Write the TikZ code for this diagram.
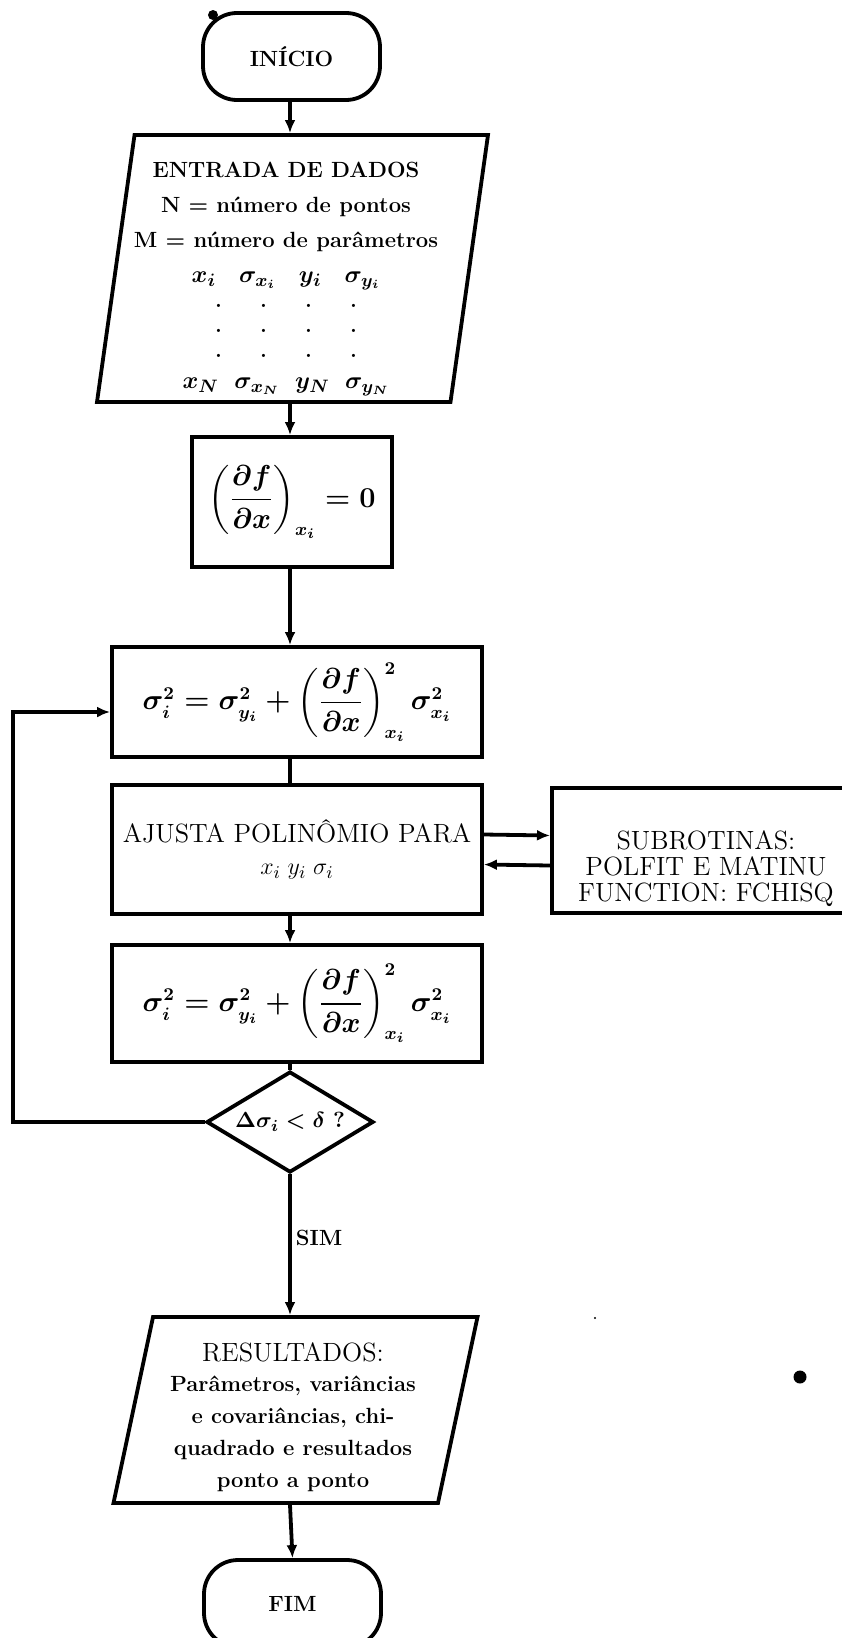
\documentclass[tikz,border=0pt]{standalone}
\usepackage{fontspec}
\usepackage{amsmath}
\usetikzlibrary{shapes.geometric,arrows.meta,calc}

\newcommand{\pontos}{\makebox[22.5pt]{.}\makebox[22.5pt]{.}\makebox[22.5pt]{.}\makebox[22.5pt]{.}}

\tikzset{
  caixa/.style={draw, line width=1.9pt, rectangle, inner sep=0pt, align=center},
  terminal/.style={draw, line width=1.9pt, rectangle, rounded corners=17pt, minimum width=88.5pt, minimum height=43.5pt, inner sep=0pt, font=\fontsize{11}{13}\selectfont\bfseries},
  paralelo/.style={draw, line width=1.9pt, trapezium, trapezium stretches body, inner sep=0pt},
  decisao/.style={draw, line width=1.9pt, diamond, inner sep=0pt, minimum width=83.5pt, minimum height=50.5pt},
  seta/.style={line width=1.9pt, -{Latex[length=6.5pt,width=5.5pt]}},
  linha/.style={line width=1.9pt},
  texto/.style={font=\fontsize{11}{17.5}\selectfont\bfseries\boldmath, align=center, inner sep=0pt},
  formula/.style={font=\fontsize{13.5}{15}\selectfont\bfseries\boldmath},
  normal/.style={font=\fontsize{13.2}{15}\selectfont, align=center, inner sep=0pt},
  ponto/.style={circle, fill, inner sep=0pt},
}

\begin{document}
\begin{tikzpicture}[x=0.5pt,y=0.5pt,yscale=-1]
\useasboundingbox (0,0) rectangle (841,1638);

%Column of the vertical connectors
\coordinate (eixo) at (290,0);

%Terminal: start
\node[terminal] (inicio) at (291.5,56.5) {INÍCIO};
\node[ponto, minimum size=5pt] (mancha1) at (213,15) {};

%Parallelogram: data input
\node[paralelo, trapezium left angle=82, trapezium right angle=98, minimum width=195.5pt] (entrada) at (292.5,268.5) {\rule{0pt}{133.5pt}};
\node[texto] (entradatxt) at (286,279) {ENTRADA DE DADOS\\
N $=$ número de pontos\\
M $=$ número de parâmetros\\
{\fontsize{12.5}{17.5}\selectfont$x_i\;\;\;\sigma_{x_i}\;\;\;y_i\;\;\;\sigma_{y_i}$}\\[-5pt]
\pontos\\[-5pt]
\pontos\\[-5pt]
\pontos\\[-2pt]
{\fontsize{12.5}{17.5}\selectfont$x_N\;\;\sigma_{x_N}\;\;y_N\;\;\sigma_{y_N}$}};

%Rectangle: derivative
\node[caixa, formula, minimum width=100pt, minimum height=65pt] (derivada) at (292,502) {$\left(\dfrac{\partial f}{\partial x}\right)_{x_i} = 0$};

%Rectangle: first variance
\node[caixa, formula, minimum width=185pt, minimum height=55pt] (sigma1) at (297,702) {$\sigma_i^2 = \sigma_{y_i}^2 + \left(\dfrac{\partial f}{\partial x}\right)^2_{x_i}\sigma_{x_i}^2$};

%Rectangle: fit
\node[caixa, normal, minimum width=185pt, minimum height=64.5pt] (ajusta) at (297,849.5) {AJUSTA POLINÔMIO PARA\\[1pt] $x_i\;y_i\;\sigma_i$};

%Rectangle: subroutines (cut by the right border)
\node[caixa, minimum width=160pt, minimum height=62.5pt, anchor=west] (sub) at (550,850.5) {};
\node[normal, font=\fontsize{13.2}{13}\selectfont] (subtxt) at (706,869) {SUBROTINAS:\\ POLFIT E MATINU\\ FUNCTION: FCHISQ};

%Rectangle: second variance
\node[caixa, formula, minimum width=185pt, minimum height=58.5pt] (sigma2) at (297,1003.5) {$\sigma_i^2 = \sigma_{y_i}^2 + \left(\dfrac{\partial f}{\partial x}\right)^2_{x_i}\sigma_{x_i}^2$};

%Diamond: test
\node[decisao] (teste) at (290,1122) {};
\node[texto, font=\fontsize{11}{14}\selectfont\bfseries\boldmath] (testetxt) at (290,1122) {$\Delta\sigma_i < \delta\ ?$};
\coordinate (retorno) at (13,1122);

%Parallelogram: results
\node[paralelo, trapezium left angle=78, trapezium right angle=102, minimum width=182pt] (resultados) at (295.5,1410) {\rule{0pt}{93pt}};
\node[normal] (resultadostit) at (293,1352) {RESULTADOS:};
\node[texto, font=\fontsize{11}{16}\selectfont\bfseries] (resultadostxt) at (293,1434) {Parâmetros, variâncias\\ e covariâncias, chi-\\ quadrado e resultados\\ ponto a ponto};

%Terminal: end
\node[terminal] (fim) at (292.5,1603.5) {FIM};

%Specks of the page
\node[ponto, minimum size=6.5pt] (mancha2) at (800,1377) {};
\node[ponto, minimum size=1.2pt] (mancha3) at (595,1318) {};

%Connectors
\draw[seta] (eixo |- inicio.south) -- (eixo |- entrada.north);
\draw[seta] (eixo |- entrada.south) -- (eixo |- derivada.north);
\draw[seta] (eixo |- derivada.south) -- (eixo |- sigma1.north);
\draw[linha] (eixo |- sigma1.south) -- (eixo |- ajusta.north);
\draw[seta] (eixo |- ajusta.south) -- (eixo |- sigma2.north);
\draw[linha] (eixo |- sigma2.south) -- (teste.north);
\draw[seta] ($(ajusta.east)+(0,-15)$) -- ($(sub.west)+(0,-15)$);
\draw[seta] ($(sub.west)+(0,15)$) -- ($(ajusta.east)+(0,15)$);
\draw[seta] (teste.west) -- (retorno) |- ($(sigma1.west)+(0,10)$);
\draw[seta] (teste.south) -- node[pos=0.45, right, inner sep=2pt, font=\fontsize{11}{13}\selectfont\bfseries] (sim) {SIM} (eixo |- resultados.north);
\draw[seta] (eixo |- resultados.south) -- (fim.north);

\end{tikzpicture}
\end{document}
